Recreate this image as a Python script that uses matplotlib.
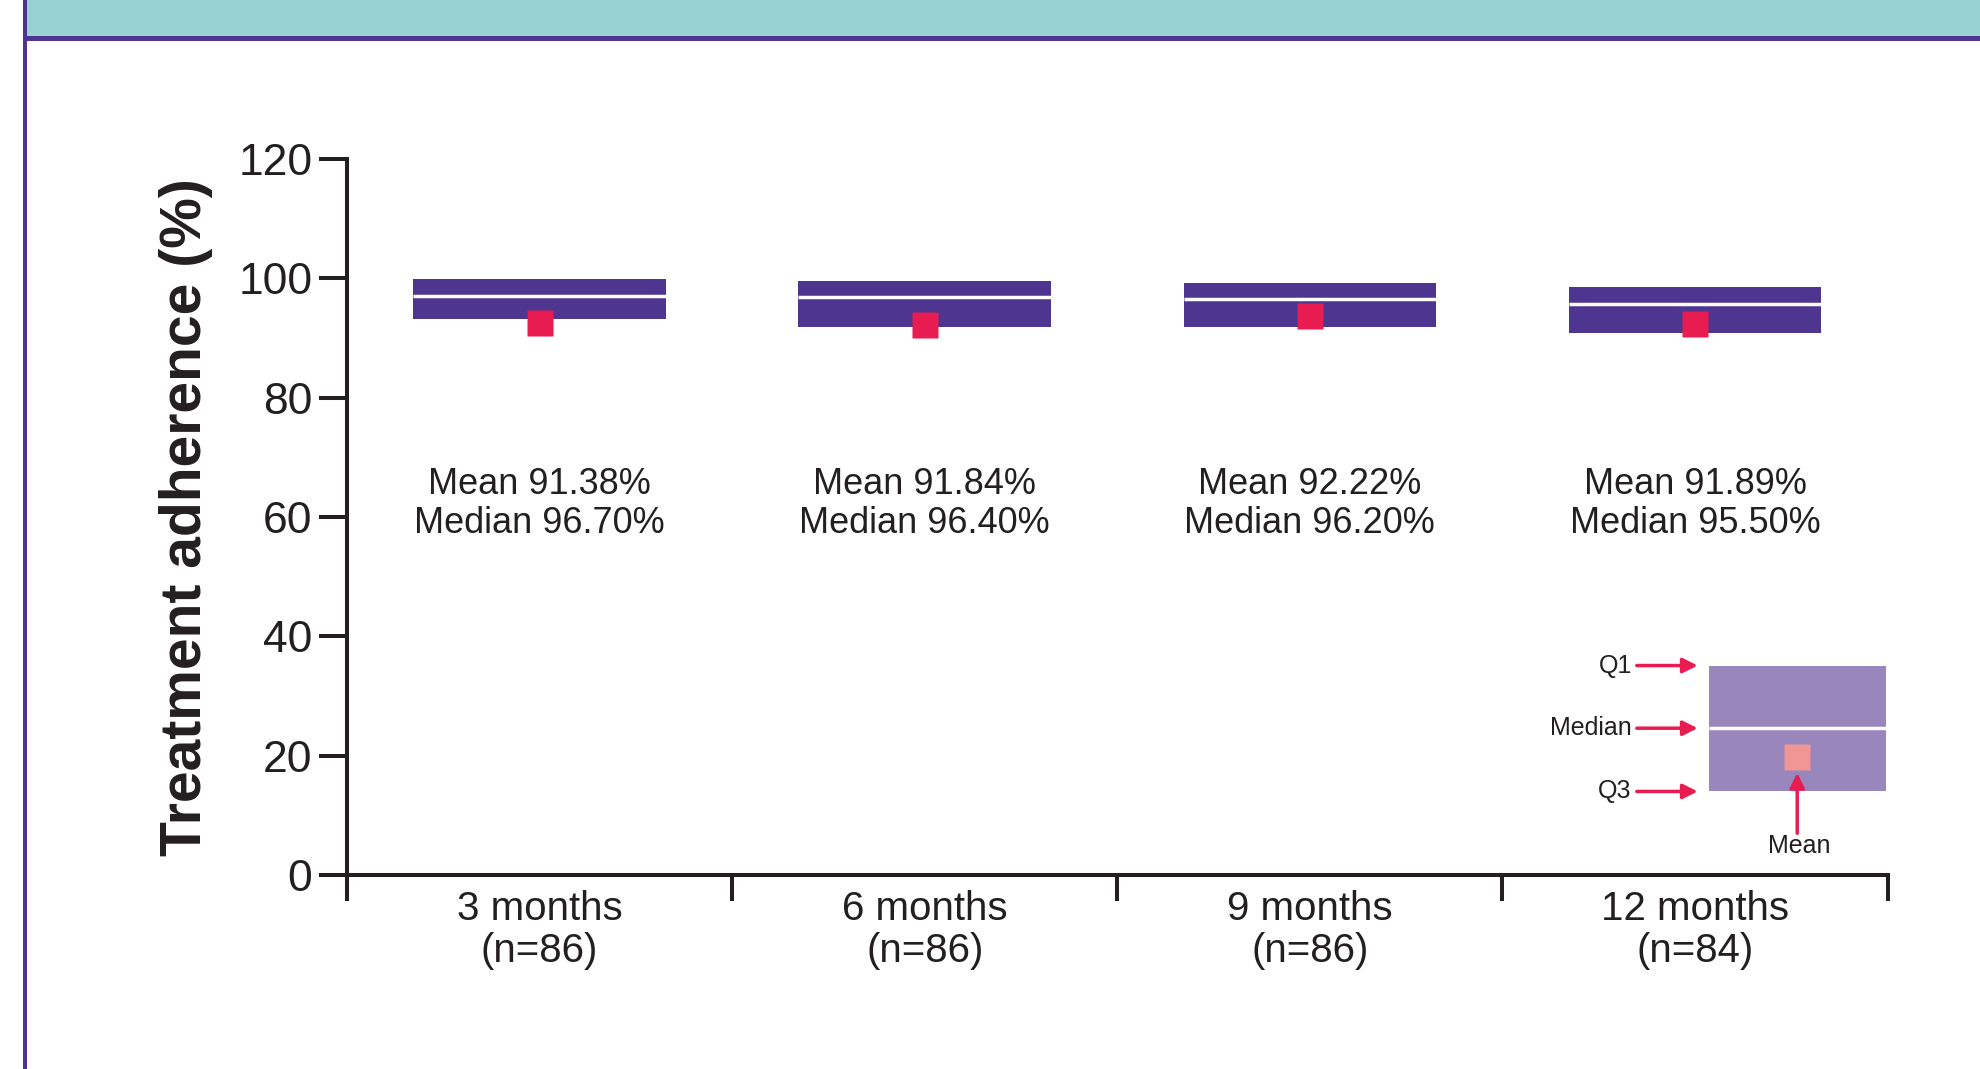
import numpy as np
import matplotlib
matplotlib.use('Agg')
import matplotlib.pyplot as plt
from matplotlib.patches import Rectangle

# Data
categories = ['3 months\n(n=86)', '6 months\n(n=86)', '9 months\n(n=86)', '12 months\n(n=84)']
q1 = [99.9, 99.5, 99.2, 98.6]
median = [97.1, 96.9, 96.5, 95.7]
q3 = [93.1, 91.9, 91.9, 90.8]
mean_marker = [92.5, 92.2, 93.7, 92.4]
mean_text = ['91.38%', '91.84%', '92.22%', '91.89%']
median_text = ['96.70%', '96.40%', '96.20%', '95.50%']
yticks = [0, 20, 40, 60, 80, 100, 120]

# key (explanation box) values
key_q1, key_median, key_q3, key_mean = 35.1, 24.6, 14.0, 19.7

PURPLE = '#4E3590'
RED = '#E81C50'
INK = '#231F20'
plt.rcParams['font.family'] = ['Liberation Sans', 'DejaVu Sans']

fig = plt.figure(figsize=(19.8, 10.69), dpi=100)

# header band + frame lines
fig.add_artist(Rectangle((27/1980, 1 - 36/1069), 1, 36/1069, transform=fig.transFigure,
                         color='#96D3D0', lw=0))
fig.add_artist(Rectangle((23/1980, 1 - 41/1069), 1, 5/1069, transform=fig.transFigure,
                         color='#4F3592', lw=0))
fig.add_artist(Rectangle((23/1980, 0), 4/1980, 1, transform=fig.transFigure,
                         color='#4F3592', lw=0))

ax = fig.add_axes([0.1753, 0.1815, 0.778, 0.6698])
x = np.arange(1, len(categories) + 1)
w = 0.656

ax.bar(x, np.array(q1) - np.array(q3), bottom=q3, width=w, color=PURPLE, zorder=2)
ax.hlines(median, x - w / 2, x + w / 2, color='white', lw=2.5, zorder=3)
ax.plot(x, mean_marker, 's', ms=19, color=RED, mec='none', zorder=4)

for xi, mt, md in zip(x, mean_text, median_text):
    ax.text(xi, 62.2, 'Mean ' + mt + '\n' + 'Median ' + md, ha='center', va='center',
            fontsize=26, color=INK, linespacing=1.17)

# key box
kx, kw = 4.2655, 0.459
ax.bar([kx], [key_q1 - key_q3], bottom=key_q3, width=kw, color='#9886BC', zorder=2)
ax.hlines(key_median, kx - kw / 2, kx + kw / 2, color='white', lw=2.5, zorder=3)
ax.plot([kx], [key_mean], 's', ms=19, color='#F29595', mec='none', zorder=4)
for lab, yv in [('Q1', key_q1), ('Median', key_median), ('Q3', key_q3)]:
    ax.annotate('', xy=(4.007, yv), xytext=(3.849, yv),
                arrowprops=dict(arrowstyle='-|>', color=RED, lw=2.5, mutation_scale=22,
                                shrinkA=0, shrinkB=0))
    ax.text(3.836, yv, lab, ha='right', va='center', fontsize=18, color=INK)
ax.annotate('', xy=(kx, 17.1), xytext=(kx, 7.0),
            arrowprops=dict(arrowstyle='-|>', color=RED, lw=2.5, mutation_scale=22,
                            shrinkA=0, shrinkB=0))
ax.text(kx + 0.005, 4.9, 'Mean', ha='center', va='center', fontsize=18, color=INK)

# axes styling
ax.set_xlim(0.5, 4.5)
ax.set_ylim(0, 120)
ax.set_yticks(yticks)
ax.tick_params(axis='y', length=20, width=2.9, color=INK, labelsize=32, labelcolor=INK, pad=5)
ax.set_xticks(np.arange(0.5, 4.6, 1.0))
ax.set_xticklabels([])
ax.set_xticks(x, minor=True)
ax.set_xticklabels(categories, minor=True, fontsize=29, color=INK, linespacing=1.12)
ax.tick_params(axis='x', which='major', length=19, width=2.9, color=INK, direction='out')
ax.tick_params(axis='x', which='minor', length=0, pad=11)
for s in ['top', 'right']:
    ax.spines[s].set_visible(False)
for s in ['left', 'bottom']:
    ax.spines[s].set_linewidth(2.9)
    ax.spines[s].set_color(INK)
ax.set_ylabel('Treatment adherence (%)', fontsize=41, fontweight='bold', color=INK, labelpad=18)

fig.savefig('out.png', dpi=100, facecolor='white')
